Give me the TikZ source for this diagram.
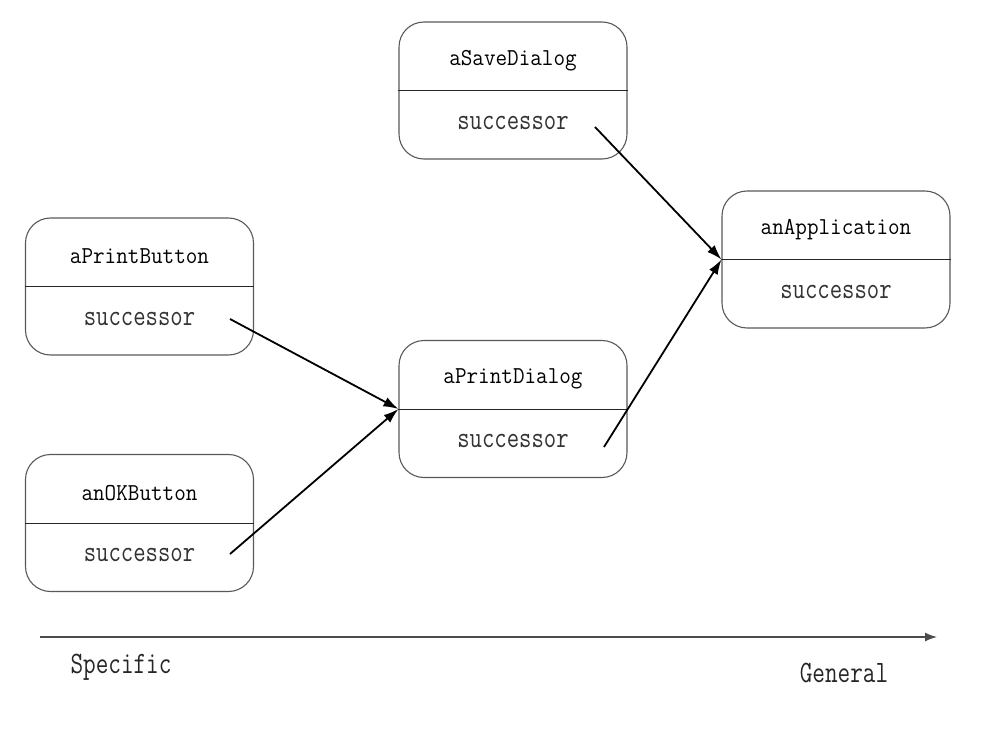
\documentclass[tikz,border=0pt]{standalone}
\usepackage{graphicx}
\usetikzlibrary{arrows.meta,calc}
\newcommand{\tallstr}[2]{\scalebox{1}[#1]{#2}}
\begin{document}
\begin{tikzpicture}[x=1pt,y=-1pt,
  objbox/.style={draw=black!65,line width=1.1pt,rounded corners=25pt,minimum width=228pt,minimum height=137pt,inner sep=0pt},
  divider/.style={draw=black!85,line width=1pt},
  titletext/.style={font=\ttfamily\fontsize{22.5}{24}\selectfont},
  slottext/.style={font=\ttfamily\fontsize{24}{26}\selectfont,text=black!80},
  axistext/.style={font=\ttfamily\fontsize{24.5}{26}\selectfont,text=black!85},
  link/.style={line width=1.8pt,-{Latex[length=15pt,width=10pt]}},
  axis/.style={draw=black!70,line width=1.3pt,-{Latex[length=12pt,width=9pt]}}]
\useasboundingbox (0,0) rectangle (996,738);
% boxes
\node[objbox] (save) at (513,90.5) {};
\node[objbox] (pbtn) at (139.5,286.5) {};
\node[objbox] (okbtn) at (139.5,523) {};
\node[objbox] (pdlg) at (513,409) {};
\node[objbox] (app) at (836,259.5) {};
\foreach \b/\t in {save/aSaveDialog,pbtn/aPrintButton,okbtn/anOKButton,pdlg/aPrintDialog,app/anApplication}{
  \draw[divider] (\b.west) -- (\b.east);
  \node[titletext] (\b-title) at ($(\b.center)+(0,-30)$) {\tallstr{1.08}{\t}};
  \node[slottext] (\b-slot) at ($(\b.center)+(0,32)$) {\tallstr{1.25}{successor}};
}
% arrow start points
\coordinate (s-pbtn) at (230,319);
\coordinate (s-okbtn) at (230,554);
\coordinate (s-save) at (595,127);
\coordinate (s-pdlg) at (604,447);
\draw[link] (s-pbtn) -- (pdlg.west);
\draw[link] (s-okbtn) -- (pdlg.west);
\draw[link] (s-save) -- (app.west);
\draw[link] (s-pdlg) -- (app.west);
% axis
\coordinate (ax0) at (40,637);
\coordinate (ax1) at (937,637);
\draw[axis] (ax0) -- (ax1);
\node[axistext] (spec) at (121,667) {\tallstr{1.27}{Specific}};
\node[axistext] (gen) at (844,673) {\tallstr{1.27}{General}};
\end{tikzpicture}
\end{document}
